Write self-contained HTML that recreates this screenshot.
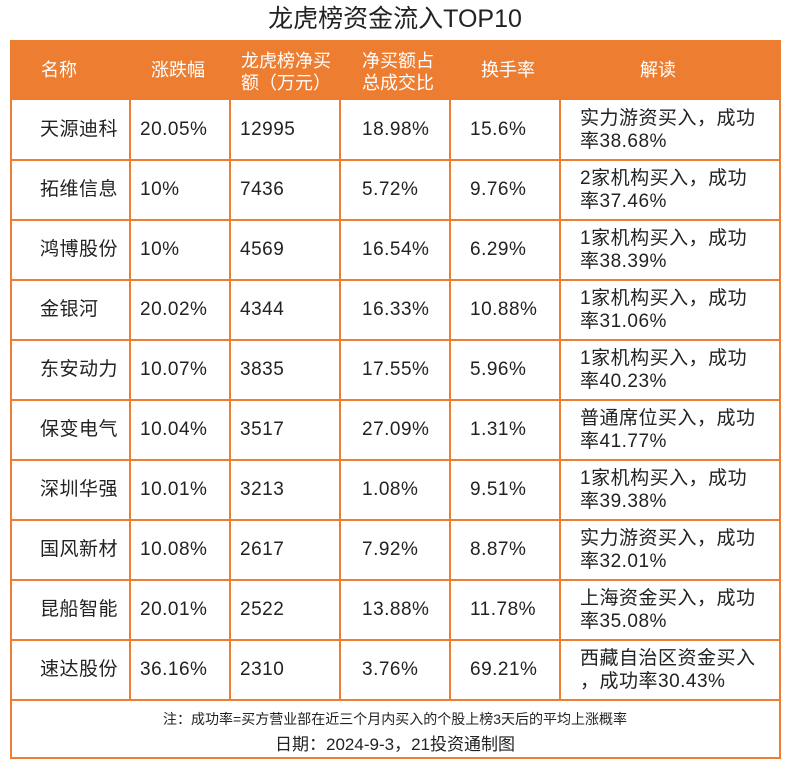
<!DOCTYPE html>
<html><head><meta charset="utf-8"><style>
body{margin:0;width:790px;height:770px;background:#fff;font-family:"Liberation Sans","Noto Sans CJK SC",sans-serif;color:#222;position:relative;overflow:hidden}
.a{position:absolute;white-space:nowrap}
#box{position:absolute;left:10px;top:40px;width:767px;height:717px;border:2px solid #ED7D31;border-top:none}
#hdr{position:absolute;left:10px;top:40px;width:771px;height:60px;background:#ED7D31}
.h{color:#fff;font-size:18px;line-height:22px}
.c{font-size:19px;line-height:23px;letter-spacing:0.5px}
.vl{position:absolute;width:2px;background:#ED7D31;top:100px;height:600px}
.hl{position:absolute;height:2px;background:#ED7D31;left:10px;width:771px}
</style></head><body>
<div class="a" style="left:0;width:790px;text-align:center;top:4px;font-size:25px;line-height:30px">龙虎榜资金流入TOP10</div>
<div id="hdr"></div>
<div id="box"></div>
<div class="a h" style="left:41px;top:59px">名称</div>
<div class="a h" style="left:151px;top:59px">涨跌幅</div>
<div class="a h" style="left:241px;top:50px">龙虎榜净买<br>额（万元）</div>
<div class="a h" style="left:362px;top:50px">净买额占<br>总成交比</div>
<div class="a h" style="left:481px;top:59px">换手率</div>
<div class="a h" style="left:640px;top:59px">解读</div>
<div id="rows"></div>
<div class="a" style="left:0;width:790px;text-align:center;top:710px;font-size:14px;line-height:18px">注：成功率=买方营业部在近三个月内买入的个股上榜3天后的平均上涨概率</div>
<div class="a" style="left:0;width:790px;text-align:center;top:734px;font-size:17px;line-height:22px">日期：2024-9-3，21投资通制图</div>
<script>
const names=["天源迪科","拓维信息","鸿博股份","金银河","东安动力","保变电气","深圳华强","国风新材","昆船智能","速达股份"];
const changes=["20.05%","10%","10%","20.02%","10.07%","10.04%","10.01%","10.08%","20.01%","36.16%"];
const netBuy=["12995","7436","4569","4344","3835","3517","3213","2617","2522","2310"];
const ratio=["18.98%","5.72%","16.54%","16.33%","17.55%","27.09%","1.08%","7.92%","13.88%","3.76%"];
const turnover=["15.6%","9.76%","6.29%","10.88%","5.96%","1.31%","9.51%","8.87%","11.78%","69.21%"];
const notes=[["实力游资买入，成功","率38.68%"],["2家机构买入，成功","率37.46%"],["1家机构买入，成功","率38.39%"],["1家机构买入，成功","率31.06%"],["1家机构买入，成功","率40.23%"],["普通席位买入，成功","率41.77%"],["1家机构买入，成功","率39.38%"],["实力游资买入，成功","率32.01%"],["上海资金买入，成功","率35.08%"],["西藏自治区资金买入","，成功率30.43%"]];
const R=document.getElementById('rows');
const xs=[40,140,240,362,470,580];
const keys=["name","change","net-buy","ratio","turnover"];
[129,229,339,449,559].forEach((x,i)=>{const v=document.createElement('div');v.className='vl';v.style.left=x+'px';


R.appendChild(v);});
names.forEach((n,i)=>{
 const top=100+i*60;
 if(i>0){const h=document.createElement('div');h.className='hl';h.style.top=(top-1)+'px';
 
 
 R.appendChild(h);}
 [n,changes[i],netBuy[i],ratio[i],turnover[i]].forEach((t,j)=>{
  const d=document.createElement('div');d.className='a c';d.textContent=t;
  d.style.left=xs[j]+'px';d.style.top=(top+18)+'px';
  
  
  R.appendChild(d);});
 const d=document.createElement('div');d.className='a c';d.innerHTML=notes[i][0]+'<br>'+notes[i][1];
 d.style.left='580px';d.style.top=(top+7)+'px';
 
 
 R.appendChild(d);
});
const h=document.createElement('div');h.className='hl';h.style.top='699px';


R.appendChild(h);
</script>
</body></html>
